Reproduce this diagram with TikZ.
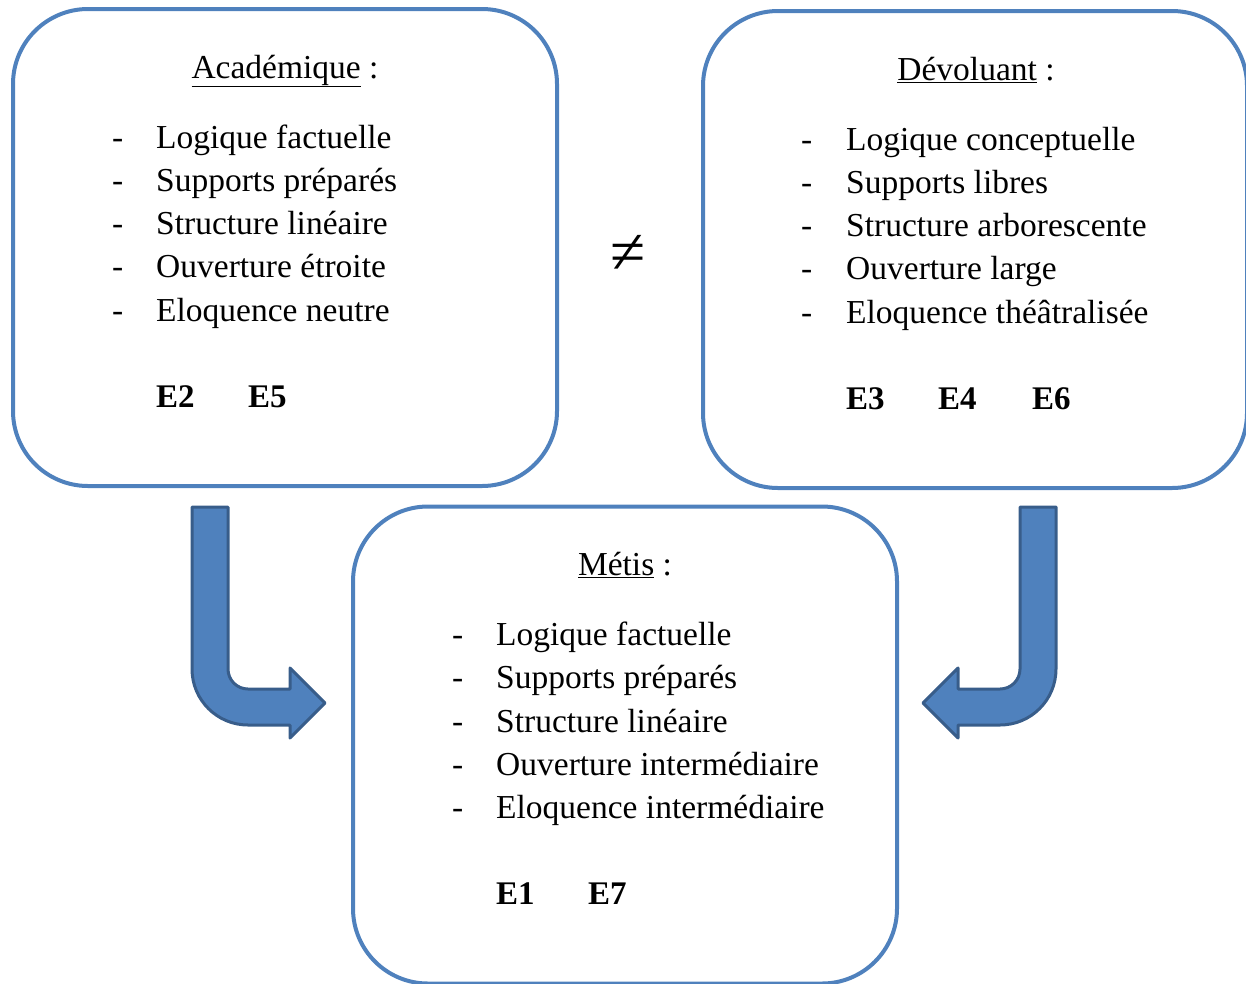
\documentclass[tikz,border=0pt]{standalone}
\usepackage{fontspec}
\setmainfont{Liberation Serif}
\usetikzlibrary{positioning}
\definecolor{boxblue}{HTML}{4F81BD}
\definecolor{arrowedge}{HTML}{385D8A}
\tikzset{
  panel/.style={draw=boxblue,line width=4pt,rounded corners=75pt,
    minimum width=544pt,minimum height=477pt,inner sep=0pt,outer sep=0pt},
  title/.style={anchor=base,inner sep=0pt},
  item/.style={anchor=base west,inner sep=0pt},
  tag/.style={anchor=base west,inner sep=0pt,font=\fontsize{33}{40}\selectfont\bfseries},
  bentarrow/.style={fill=boxblue,draw=arrowedge,line width=3pt,line join=round},
}

\begin{document}
\begin{tikzpicture}[x=1pt,y=-1pt,font=\fontsize{33.5}{40}\selectfont]
  \useasboundingbox (0,0) rectangle (1246,983);

  % the three panels
  \node[panel] (aca) at (285,247.5) {};
  \node[panel] (dev) at (975,249.5) {};
  \node[panel] (met) at (625,745) {};

  % titles
  \node[title] (aca-title) at ([shift={(0,69)}]aca.north) {\underline{Académique} :};
  \node[title] (dev-title) at ([shift={(1,69)}]dev.north) {\underline{Dévoluant} :};
  \node[title] (met-title) at ([shift={(0,69)}]met.north) {\underline{Métis} :};

  % lists
  \foreach \txt [count=\i] in {Logique factuelle,Supports préparés,Structure linéaire,
      Ouverture étroite,Eloquence neutre}{
    \node[item] (aca-dash-\i) at ([shift={(99,95.7+43.3*\i)}]aca.north west) {-};
    \node[item] (aca-item-\i) at ([shift={(143,95.7+43.3*\i)}]aca.north west) {\txt};
  }
  \foreach \txt [count=\i] in {Logique conceptuelle,Supports libres,Structure arborescente,
      Ouverture large,Eloquence théâtralisée}{
    \node[item] (dev-dash-\i) at ([shift={(98,95.7+43.3*\i)}]dev.north west) {-};
    \node[item] (dev-item-\i) at ([shift={(143,95.7+43.3*\i)}]dev.north west) {\txt};
  }
  \foreach \txt [count=\i] in {Logique factuelle,Supports préparés,Structure linéaire,
      Ouverture intermédiaire,Eloquence intermédiaire}{
    \node[item] (met-dash-\i) at ([shift={(99,95.7+43.3*\i)}]met.north west) {-};
    \node[item] (met-item-\i) at ([shift={(143,95.7+43.3*\i)}]met.north west) {\txt};
  }

  % tags
  \node[tag] (e2) at ([shift={(143,398)}]aca.north west) {E2};
  \node[tag] (e5) at ([shift={(235,398)}]aca.north west) {E5};
  \node[tag] (e3) at ([shift={(143,398)}]dev.north west) {E3};
  \node[tag] (e4) at ([shift={(235,398)}]dev.north west) {E4};
  \node[tag] (e6) at ([shift={(329,398)}]dev.north west) {E6};
  \node[tag] (e1) at ([shift={(143,398)}]met.north west) {E1};
  \node[tag] (e7) at ([shift={(235,398)}]met.north west) {E7};

  \node (neq) at (628,254) {\fontsize{64}{70}\selectfont ≠};

  % bent arrows
  \draw[bentarrow] (192,507) -- (192,669) arc[start angle=180,end angle=90,radius=56]
    -- (290,725) -- (290,738) -- (325,703) -- (290,668) -- (290,689) -- (248,689)
    arc[start angle=90,end angle=180,radius=20] -- (228,507) -- cycle;
  \draw[bentarrow] (1056,507) -- (1056,669) arc[start angle=0,end angle=90,radius=56]
    -- (958,725) -- (958,738) -- (923,703) -- (958,668) -- (958,689) -- (1000,689)
    arc[start angle=90,end angle=0,radius=20] -- (1020,507) -- cycle;
\end{tikzpicture}
\end{document}
